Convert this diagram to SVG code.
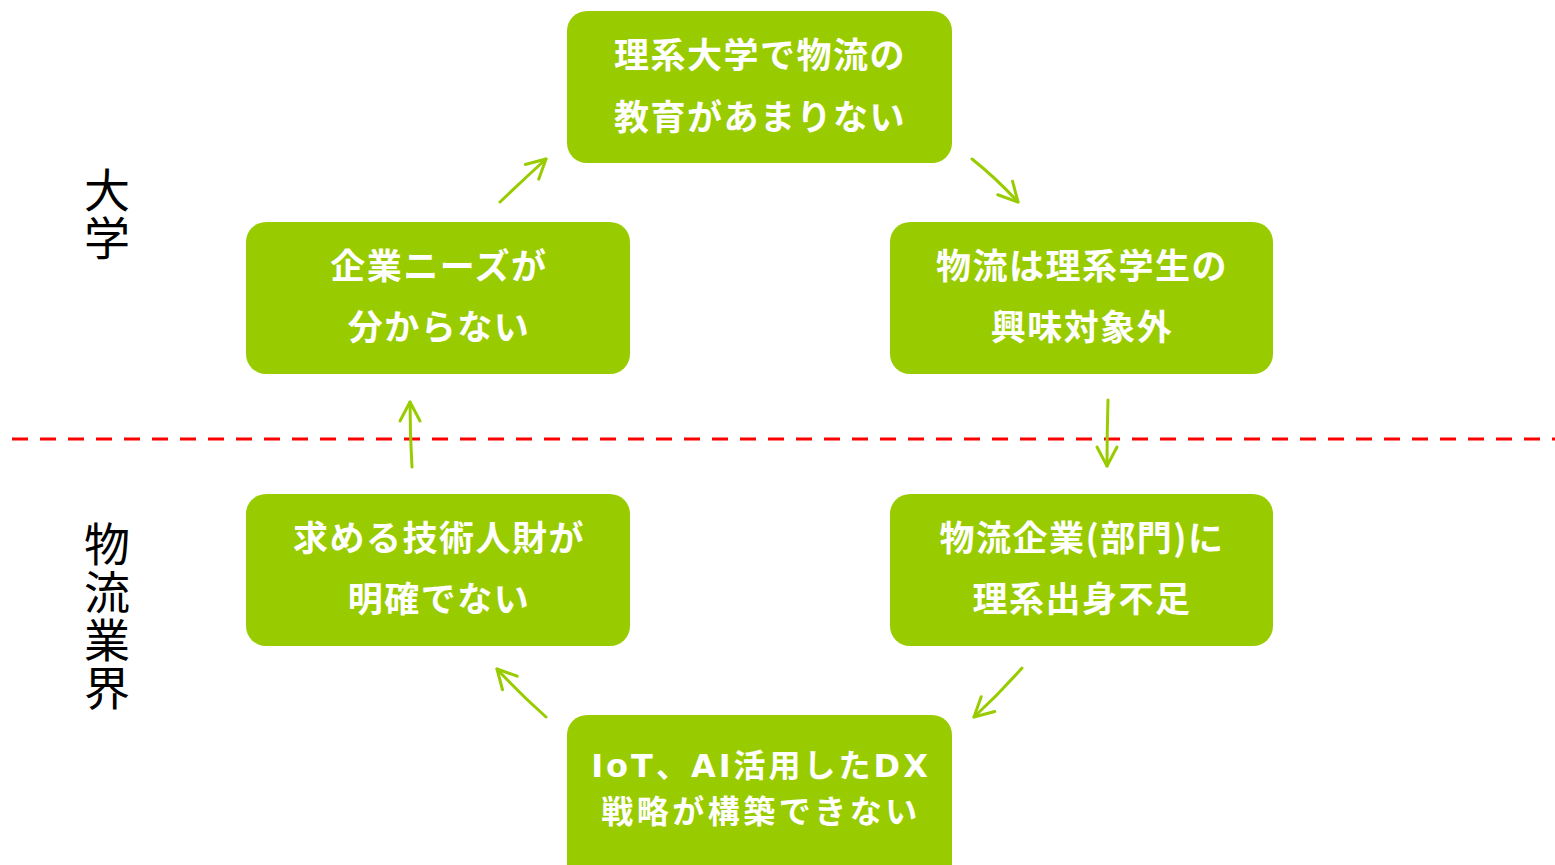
<svg xmlns="http://www.w3.org/2000/svg" width="1555" height="865" viewBox="0 0 1555 865">
  <style>
    .box { fill: #99CC00; }
    .lbl { fill: #FFFFFF; font-family: "Noto Sans CJK JP", "Noto Sans", sans-serif; font-weight: 700; font-size: 35px; letter-spacing: 1.5px; text-anchor: middle; }
    .tight { font-size: 32px; letter-spacing: 3.5px; }
    .mix { font-family: "DejaVu Sans", "Noto Sans CJK JP", sans-serif; letter-spacing: 3px; }
    .side { fill: #000000; font-family: "Noto Sans CJK JP", sans-serif; font-weight: 400; font-size: 46px; writing-mode: vertical-rl; letter-spacing: 2px; }
    .arr { fill: none; stroke: #99CC00; stroke-width: 3; stroke-linecap: round; marker-end: url(#head); }
    .divider { fill: none; stroke: #FF0000; stroke-width: 3; stroke-dasharray: 16 12; }
  </style>
  <defs>
    <marker id="head" markerUnits="userSpaceOnUse" markerWidth="30" markerHeight="30" viewBox="-24 -15 30 30" refX="0" refY="0" orient="auto">
      <path d="M-19,-10 L0,0 L-19,10" fill="none" stroke="#99CC00" stroke-width="3" stroke-linecap="round" stroke-linejoin="round"/>
    </marker>
  </defs>

  <rect width="1555" height="865" fill="#FFFFFF"/>

  <g id="divider">
    <line class="divider" x1="12" y1="439" x2="1555" y2="439"/>
  </g>

  <g id="side-labels">
    <text id="label-daigaku" class="side" x="107" y="167">大学</text>
    <text id="label-gyokai" class="side" x="107" y="521">物流業界</text>
  </g>

  <g id="node-top">
    <rect class="box" x="567" y="11" width="385" height="152" rx="20"/>
    <text class="lbl" x="760" y="68">理系大学で物流の</text>
    <text class="lbl" x="760" y="130">教育があまりない</text>
  </g>

  <g id="node-upper-right">
    <rect class="box" x="890" y="222" width="383" height="152" rx="20"/>
    <text class="lbl" x="1082" y="279">物流は理系学生の</text>
    <text class="lbl" x="1082" y="340">興味対象外</text>
  </g>

  <g id="node-lower-right">
    <rect class="box" x="890" y="494" width="383" height="152" rx="20"/>
    <text class="lbl" x="1082" y="551" letter-spacing="2.5">物流企業(部門)に</text>
    <text class="lbl" x="1082" y="612">理系出身不足</text>
  </g>

  <g id="node-bottom">
    <rect class="box" x="567" y="715" width="385" height="170" rx="20"/>
    <text class="lbl tight mix" x="761" y="776.5">IoT、AI活用したDX</text>
    <text class="lbl tight" x="761" y="823">戦略が構築できない</text>
  </g>

  <g id="node-lower-left">
    <rect class="box" x="246" y="494" width="384" height="152" rx="20"/>
    <text class="lbl" x="439" y="551">求める技術人財が</text>
    <text class="lbl" x="439" y="612">明確でない</text>
  </g>

  <g id="node-upper-left">
    <rect class="box" x="246" y="222" width="384" height="152" rx="20"/>
    <text class="lbl" x="439" y="279">企業ニーズが</text>
    <text class="lbl" x="439" y="340">分からない</text>
  </g>

  <g id="connectors">
    <path class="arr" d="M972,159 Q996,178 1018,202"/>
    <path class="arr" d="M1108,400 Q1107,433 1107,466"/>
    <path class="arr" d="M1022,668 Q999,694 974,717"/>
    <path class="arr" d="M546,717 Q520,694 497,669"/>
    <path class="arr" d="M412,467 Q410,435 410,402"/>
    <path class="arr" d="M500,202 Q523,180 546,159"/>
  </g>
</svg>
